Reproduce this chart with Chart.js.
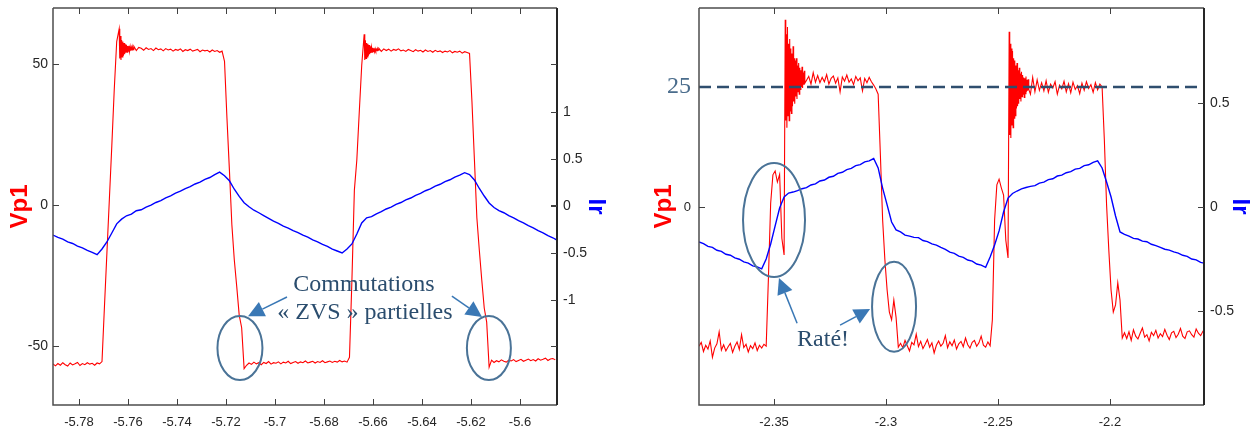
<!DOCTYPE html>
<html>
<head>
<meta charset="utf-8">
<script src="https://cdn.jsdelivr.net/npm/chart.js@4.4.1/dist/chart.umd.min.js"></script>
<style>
  html, body { margin: 0; padding: 0; background: #fff; }
  #wrap { position: relative; width: 1252px; height: 432px; }
  .box { position: absolute; top: 0; height: 432px; }
  #left { left: 0; width: 620px; }
  #right { left: 620px; width: 632px; }
</style>
</head>
<body>
<div id="wrap">
  <div class="box" id="left"><canvas id="chartLeft" width="620" height="432"></canvas></div>
  <div class="box" id="right"><canvas id="chartRight" width="632" height="432"></canvas></div>
</div>
<script>
// ---- left capture (t in ms), sampled in pieces: [start, step, values] ----
const leftVp1A = [
  -56.3, -57.0, -56.2, -56.8, -55.9, -56.6, -57.1, -56.0, -56.7, -56.3, -55.8, -56.9, -56.2, -56.6, -55.9, -56.4, -56.1, -56.8, -56.0, -56.3,
  -55.5, -36, -17, 2, 21, 41, 58
];
const leftVp1Ring1 = [
  62.5, 52, 60, 51.5, 58.5, 52.5, 58, 53, 57.5, 53.5, 57, 54, 56.8, 54.2, 56.4, 54.6, 56.5, 54.5, 56.2, 54.8, 56.0, 55.0, 55.9, 55.1
];
const leftVp1B = [
  56.3, 54.8, 55.9,
  55.6, 54.9, 55.8, 55.2, 55.5, 54.8, 55.7, 55.1, 55.4, 54.7, 55.5, 55.0, 55.3, 54.6, 55.2, 54.9, 55.4,
  54.5, 55.1, 54.8, 55.3, 54.6, 54.9, 55.2, 54.4, 55.0, 54.7, 54.9, 54.3, 55.0, 54.5, 54.8, 54.2, 54.6,
  51.0, 30.8, 12.4, -7, -19.5, -29, -39, -43.5, -58.0,
  -56.8, -56.0, -56.5, -55.7, -56.3, -55.9, -56.6, -55.8, -56.2, -55.5, -56.4, -55.9, -56.1, -55.6, -56.3, -55.7, -56.0, -55.4, -56.2, -55.8, -55.5,
  -56.1, -55.6, -55.9, -55.3, -56.0, -55.7, -55.4, -56.0, -55.5, -55.8, -55.2, -55.9, -55.6, -55.3, -55.8, -55.4, -55.7, -55.1, -55.6, -55.3, -55.7,
  -54.0, -26.6, 5.3, 16, 33, 49.6
];
const leftVp1Ring2 = [
  60.6, 51.5, 58.5, 52, 57.5, 52.5, 57.2, 53, 56.8, 53.5, 56.3, 54, 56, 54.2, 55.8, 54.5, 55.6, 54.4, 55.5, 54.7, 55.3, 54.8, 55.4, 54.9
];
const leftVp1C = [
  55.6, 54.5, 55.4,
  54.8, 55.3, 54.6, 55.2, 54.9, 55.4, 54.7, 55.0, 54.5, 55.2, 54.8, 54.4, 55.1, 54.6, 54.9, 54.3, 55.0, 54.5,
  54.8, 54.2, 54.9, 54.4, 54.7, 54.1, 54.6, 54.3, 54.8, 54.0, 54.5, 54.2, 54.6, 53.9, 54.4, 54.1, 53.8,
  36.5, 16, -4.6, -16, -26.6, -36.5, -41.5, -57.5,
  -55.0, -55.8, -55.2, -55.6, -54.9, -55.4, -55.7, -55.0, -55.3, -54.8, -55.5, -55.1, -54.7, -55.4,
  -55.0, -54.6, -55.2, -54.8, -55.3, -54.5, -55.0, -54.7, -54.3, -55.1, -54.6, -54.4, -54.9
];
const leftIr = [
  -0.309, -0.334, -0.353, -0.381, -0.399, -0.426, -0.446, -0.473, -0.493, -0.517,
  -0.457, -0.383, -0.287, -0.19, -0.140, -0.104, -0.087, -0.051, -0.040, -0.012,
  0.009, 0.037, 0.058, 0.087, 0.108, 0.136, 0.157, 0.185, 0.205, 0.234,
  0.254, 0.283, 0.303, 0.333, 0.360, 0.322, 0.268, 0.178, 0.102, 0.035,
  -0.008, -0.045, -0.072, -0.102, -0.131, -0.162, -0.185, -0.215, -0.235, -0.263,
  -0.283, -0.311, -0.332, -0.360, -0.381, -0.409, -0.430, -0.458, -0.479, -0.500,
  -0.457, -0.404, -0.298, -0.181, -0.126, -0.114, -0.083, -0.061, -0.032, -0.012,
  0.017, 0.037, 0.065, 0.085, 0.114, 0.134, 0.162, 0.182, 0.211, 0.231,
  0.259, 0.279, 0.307, 0.328, 0.354, 0.335, 0.277, 0.186, 0.106, 0.032,
  -0.016, -0.050, -0.072, -0.102, -0.126, -0.156, -0.179, -0.209, -0.232, -0.263,
  -0.285, -0.316, -0.338, -0.367
];
const leftVp1Pieces = [
  [-5.7906, 0.001, leftVp1A], [-5.7636, 0.00025, leftVp1Ring1], [-5.7576, 0.001, leftVp1B],
  [-5.6636, 0.00025, leftVp1Ring2], [-5.6576, 0.001, leftVp1C]
];
const leftIrPieces = [[-5.7906, 0.002, leftIr]];
const leftXTicks = [-5.78, -5.76, -5.74, -5.72, -5.7, -5.68, -5.66, -5.64, -5.62, -5.6];
const leftVTicks = [-50, 0, 50];
const leftITicks = [-1, -0.5, 0, 0.5, 1];

// ---- right capture ----
const rightVp1A = [
  -29.0, -28.2, -30.1, -28.8, -29.6, -27.9, -31.3, -29.4, -28.5, -26.0, -29.8, -28.7, -30.0, -29.1, -28.4,
  -30.3, -29.0, -28.1, -29.7, -26.6, -29.3, -28.6, -30.2, -28.9, -29.5, -28.3, -29.9, -28.8, -29.4, -28.6,
  -29.0, -14.8, 0.8, 6.7, 7.5, 5.2, 6.8, -6.5, -10.0
];
const rightVp1Ring1 = [
  39, 18, 36, 16.5, 37.5, 19, 34, 18, 35, 20, 33, 19.5, 32, 21, 33.5, 22, 31, 21.5,
  30.5, 23, 31, 22.5, 29.5, 24, 30, 23.5, 29, 24.5, 28.5, 25, 29.2, 24.8, 28, 25.5, 28.4, 25.8
];
const rightVp1B = [
  27.2, 25.6, 28.0, 26.0,
  27.4, 25.9, 27.0, 26.1, 27.6, 25.6, 26.8, 27.3, 25.8, 26.9, 24.0, 27.1, 26.2, 27.5,
  26.0, 26.7, 25.5, 27.2, 26.3, 26.9, 24.2, 26.8, 25.9, 27.0, 26.1, 25.4, 24.6,
  23.5, 10.8, -2.7, -11, -17.3, -21.9, -23.5, -19.4, -23.0, -29.2,
  -28.4, -29.3, -27.8, -28.9, -30.0, -28.2, -28.7, -26.5, -29.1, -28.0, -29.5, -28.6, -27.6, -29.2, -28.3, -30.4, -28.8, -27.9, -29.0, -28.4,
  -26.8, -29.3, -28.1, -28.9, -27.7, -29.6, -28.5, -28.0, -29.1, -27.3, -28.7, -29.4, -28.2, -27.8, -29.0, -28.3, -26.9, -28.8, -29.2, -28.1, -28.9,
  -23.5, -2.7, 4.6, 5.8, 4.0, 2.5, -6.9, -10.6
];
const rightVp1Ring2 = [
  36.5, 15, 34, 14.4, 33, 17, 32.5, 16.5, 31, 18.5, 30.5, 19, 29.5, 20.5, 30, 21, 28.5, 21.5,
  29, 22.5, 27.8, 22, 28.2, 23, 27.5, 23.5, 27, 22.8, 26.8, 23.6, 27.2, 24, 26.5, 24.2, 26.6, 24.5
];
const rightVp1C = [
  23.5, 27.0, 24.0, 26.5, 24.3,
  25.9, 24.2, 26.3, 23.9, 25.6, 24.8, 26.1, 23.5, 25.4, 24.6, 26.2, 24.0, 25.7, 23.8,
  26.0, 24.5, 25.3, 23.6, 25.8, 24.3, 26.1, 24.7, 25.5, 23.9, 25.9, 24.4, 25.6, 25.0,
  14.0, 0.4, -9.0, -17.3, -21.9, -20.4, -15.8, -19.4, -27.3,
  -26.2, -27.4, -26.0, -27.8, -25.6, -26.9, -27.5, -26.3, -25.2, -27.1, -26.6, -27.9, -26.1, -26.8, -25.7, -27.3, -26.4, -27.0, -25.5,
  -26.7, -27.6, -26.2, -25.9, -27.2, -26.5, -25.3, -26.9, -27.4, -26.0, -25.8, -26.6, -27.1, -25.4, -26.3, -26.8, -25.9, -26.4
];
const rightIr = [
  -0.168, -0.176, -0.189, -0.194, -0.208, -0.213, -0.227, -0.232, -0.245, -0.251,
  -0.264, -0.270, -0.283, -0.288, -0.297, -0.250, -0.178, -0.091, -0.005, 0.048,
  0.067, 0.072, 0.079, 0.088, 0.093, 0.106, 0.111, 0.125, 0.130, 0.143,
  0.148, 0.162, 0.167, 0.180, 0.186, 0.199, 0.204, 0.217, 0.222, 0.233,
  0.188, 0.091, 0.010, -0.072, -0.110, -0.120, -0.135, -0.140, -0.146, -0.147,
  -0.161, -0.166, -0.177, -0.183, -0.194, -0.204, -0.217, -0.223, -0.236, -0.242,
  -0.255, -0.260, -0.274, -0.279, -0.290, -0.240, -0.183, -0.115, -0.024, 0.043,
  0.065, 0.077, 0.087, 0.094, 0.099, 0.103, 0.115, 0.120, 0.132, 0.136,
  0.149, 0.153, 0.165, 0.170, 0.182, 0.186, 0.199, 0.203, 0.215, 0.222,
  0.188, 0.120, 0.048, -0.043, -0.120, -0.132, -0.140, -0.151, -0.154, -0.164,
  -0.167, -0.179, -0.186, -0.194, -0.203, -0.207, -0.216, -0.222, -0.232, -0.237,
  -0.250, -0.254, -0.266, -0.271
];
const rightVp1Pieces = [
  [-2.3835, 0.001, rightVp1A], [-2.3450, 0.00025, rightVp1Ring1], [-2.3345, 0.001, rightVp1B],
  [-2.2450, 0.00025, rightVp1Ring2], [-2.2355, 0.001, rightVp1C]
];
const rightIrPieces = [[-2.3835, 0.002, rightIr]];
const rightXTicks = [-2.35, -2.3, -2.25, -2.2];
const rightVTicks = [0, 25];
const rightITicks = [-0.5, 0, 0.5];

const toPoints = pieces => pieces.flatMap(([t0, dt, vals]) => vals.map((v, i) => ({ x: t0 + i * dt, y: v })));
const fmt = v => String(Math.round(v * 100) / 100);

const INK = '#262626';
const NOTE_TEXT = '#2b4d6e';
const NOTE_LINE = '#4a7397';
const ARROW = '#3a78b5';

// box, inward tick marks (MATLAB style) and the hand-drawn notes
const framePlugin = {
  id: 'frame',
  afterDatasetsDraw(chart, args, opts) {
    const { ctx, chartArea: a, scales } = chart;
    const sx = scales.x, sv = scales.yV, si = scales.yI;
    ctx.save();

    if (opts.dashAt !== undefined) {
      const y = sv.getPixelForValue(opts.dashAt);
      ctx.strokeStyle = '#2f4e6e';
      ctx.lineWidth = 2.5;
      ctx.setLineDash([12, 6]);
      ctx.beginPath(); ctx.moveTo(a.left, y); ctx.lineTo(a.right, y); ctx.stroke();
      ctx.setLineDash([]);
    }

    ctx.strokeStyle = '#4d4d4d';
    ctx.lineWidth = 1.5;
    ctx.beginPath();
    ctx.moveTo(a.left, a.top); ctx.lineTo(a.right, a.top);
    ctx.moveTo(a.left, a.top); ctx.lineTo(a.left, a.bottom); ctx.lineTo(a.right, a.bottom);
    ctx.stroke();
    ctx.strokeStyle = INK;
    ctx.lineWidth = 2;
    ctx.beginPath(); ctx.moveTo(a.right, a.top); ctx.lineTo(a.right, a.bottom); ctx.stroke();

    ctx.lineWidth = 1;
    ctx.strokeStyle = '#404040';
    ctx.beginPath();
    sx.ticks.forEach(t => {
      const x = Math.round(sx.getPixelForValue(t.value)) + 0.5;
      ctx.moveTo(x, a.bottom); ctx.lineTo(x, a.bottom - 6);
      ctx.moveTo(x, a.top); ctx.lineTo(x, a.top + 6);
    });
    opts.vMarks.forEach(v => {
      const y = Math.round(sv.getPixelForValue(v)) + 0.5;
      ctx.moveTo(a.left, y); ctx.lineTo(a.left + 6, y);
      ctx.moveTo(a.right, y); ctx.lineTo(a.right - 6, y);
    });
    si.ticks.forEach(t => {
      const y = Math.round(si.getPixelForValue(t.value)) + 0.5;
      ctx.moveTo(a.right, y); ctx.lineTo(a.right - 6, y);
    });
    ctx.stroke();

    // notes
    ctx.strokeStyle = NOTE_LINE;
    ctx.lineWidth = 2;
    (opts.ellipses || []).forEach(e => {
      ctx.beginPath();
      ctx.ellipse(sx.getPixelForValue(e.x), sv.getPixelForValue(e.v), e.rx, e.ry, 0, 0, Math.PI * 2);
      ctx.stroke();
    });
    (opts.arrows || []).forEach(r => {
      const x1 = sx.getPixelForValue(r.x1), y1 = sv.getPixelForValue(r.v1);
      const x2 = sx.getPixelForValue(r.x2), y2 = sv.getPixelForValue(r.v2);
      const ang = Math.atan2(y2 - y1, x2 - x1);
      const hl = 16, hw = 8;
      const bx = x2 - hl * Math.cos(ang), by = y2 - hl * Math.sin(ang);
      ctx.strokeStyle = ARROW; ctx.fillStyle = ARROW; ctx.lineWidth = 1.5;
      ctx.beginPath(); ctx.moveTo(x1, y1); ctx.lineTo(bx, by); ctx.stroke();
      ctx.beginPath();
      ctx.moveTo(x2, y2);
      ctx.lineTo(bx + hw * Math.sin(ang), by - hw * Math.cos(ang));
      ctx.lineTo(bx - hw * Math.sin(ang), by + hw * Math.cos(ang));
      ctx.closePath(); ctx.fill();
    });
    ctx.fillStyle = NOTE_TEXT;
    ctx.font = '24px "Liberation Serif", "Times New Roman", serif';
    ctx.textAlign = 'center';
    ctx.textBaseline = 'middle';
    (opts.texts || []).forEach(t => {
      ctx.fillText(t.text, sx.getPixelForValue(t.x), sv.getPixelForValue(t.v));
    });
    ctx.restore();
  }
};

const noPad = s => { s.paddingTop = 0; s.paddingBottom = 0; s.paddingLeft = 0; s.paddingRight = 0; };

function makeChart(id, c) {
  return new Chart(document.getElementById(id), {
    type: 'line',
    data: {
      datasets: [
        { label: 'Ir', data: c.ir, yAxisID: 'yI', borderColor: '#0000ff', borderWidth: 1.4, pointRadius: 0, tension: 0, fill: false },
        { label: 'Vp1', data: c.vp1, yAxisID: 'yV', borderColor: '#ff0000', borderWidth: 1.1, pointRadius: 0, tension: 0, fill: false }
      ]
    },
    options: {
      responsive: false,
      animation: false,
      events: [],
      layout: { padding: { top: 8, left: 0, right: 0, bottom: 0 } },
      plugins: { legend: { display: false }, tooltip: { enabled: false }, frame: c.notes },
      scales: {
        x: {
          type: 'linear', position: 'bottom', min: c.xMin, max: c.xMax,
          afterBuildTicks: s => { s.ticks = c.xTicks.map(v => ({ value: v })); },
          afterFit: s => { s.height = 27; noPad(s); },
          grid: { display: false, drawTicks: false },
          border: { display: false },
          ticks: { autoSkip: false, maxRotation: 0, minRotation: 0, padding: 10, color: INK,
                   font: { family: 'Liberation Sans', size: 13 }, callback: fmt }
        },
        yV: {
          type: 'linear', position: 'left', min: c.vMin, max: c.vMax,
          afterBuildTicks: s => { s.ticks = c.vTicks.map(v => ({ value: v })); },
          afterFit: s => { s.width = c.vWidth; noPad(s); },
          grid: { display: false, drawTicks: false },
          border: { display: false },
          ticks: { padding: c.vPad, color: c.vColor || INK, font: c.vFont || { family: 'Liberation Sans', size: 14 }, callback: fmt },
          title: { display: true, text: 'Vp1', color: '#ff0000',
                   font: { family: 'Liberation Sans', size: 24, weight: 'bold', lineHeight: 1 },
                   padding: { top: c.vTitlePad, bottom: 0 } }
        },
        yI: {
          type: 'linear', position: 'right', min: c.iMin, max: c.iMax,
          afterBuildTicks: s => { s.ticks = c.iTicks.map(v => ({ value: v })); },
          afterFit: s => { s.width = c.iWidth; noPad(s); },
          grid: { display: false, drawTicks: false },
          border: { display: false },
          ticks: { padding: 6, color: INK, font: { family: 'Liberation Sans', size: 14 }, callback: fmt },
          title: { display: true, text: 'Ir', color: '#0000ff',
                   font: { family: 'Liberation Sans', size: 24, weight: 'bold', lineHeight: 1 },
                   padding: { top: c.iTitlePad, bottom: 0 } }
        }
      }
    },
    plugins: [framePlugin]
  });
}

makeChart('chartLeft', {
  vp1: toPoints(leftVp1Pieces),
  ir: toPoints(leftIrPieces),
  xMin: -5.7906, xMax: -5.5849, xTicks: leftXTicks,
  vMin: -70.9, vMax: 69.9, vTicks: leftVTicks, vWidth: 53, vPad: 5, vTitlePad: 8,
  iMin: -2.117, iMax: 2.106, iTicks: leftITicks, iWidth: 63, iTitlePad: 12,
  notes: {
    vMarks: leftVTicks,
    ellipses: [{ x: -5.7143, v: -50.7, rx: 22.5, ry: 32 }, { x: -5.6127, v: -50.7, rx: 22, ry: 32 }],
    arrows: [{ x1: -5.6951, v1: -32.6, x2: -5.7110, v2: -39.4 }, { x1: -5.6278, v1: -32.3, x2: -5.6155, v2: -39.7 }],
    texts: [{ text: 'Commutations', x: -5.6637, v: -28.4 }, { text: '« ZVS » partielles', x: -5.6633, v: -38.3 }]
  }
});

makeChart('chartRight', {
  vp1: toPoints(rightVp1Pieces),
  ir: toPoints(rightIrPieces),
  xMin: -2.3835, xMax: -2.158, xTicks: rightXTicks,
  vMin: -41.25, vMax: 41.46, vTicks: rightVTicks, vWidth: 79, vPad: 8, vTitlePad: 32,
  vColor: ctx => ctx.tick && ctx.tick.value === 25 ? '#4a6c8c' : INK,
  vFont: ctx => ctx.tick && ctx.tick.value === 25
    ? { family: 'Liberation Serif', size: 24 }
    : { family: 'Liberation Sans', size: 13 },
  iMin: -0.952, iMax: 0.957, iTicks: rightITicks, iWidth: 48, iTitlePad: 0,
  notes: {
    vMarks: [0],
    dashAt: 25,
    ellipses: [{ x: -2.35, v: -2.7, rx: 31, ry: 57 }, { x: -2.2964, v: -20.8, rx: 22, ry: 45 }],
    arrows: [{ x1: -2.3397, v1: -24.2, x2: -2.3478, v2: -14.8 }, { x1: -2.3205, v1: -24.6, x2: -2.3071, v2: -21.25 }],
    texts: [{ text: 'Raté!', x: -2.3281, v: -27.7 }]
  }
});
</script>
</body>
</html>
